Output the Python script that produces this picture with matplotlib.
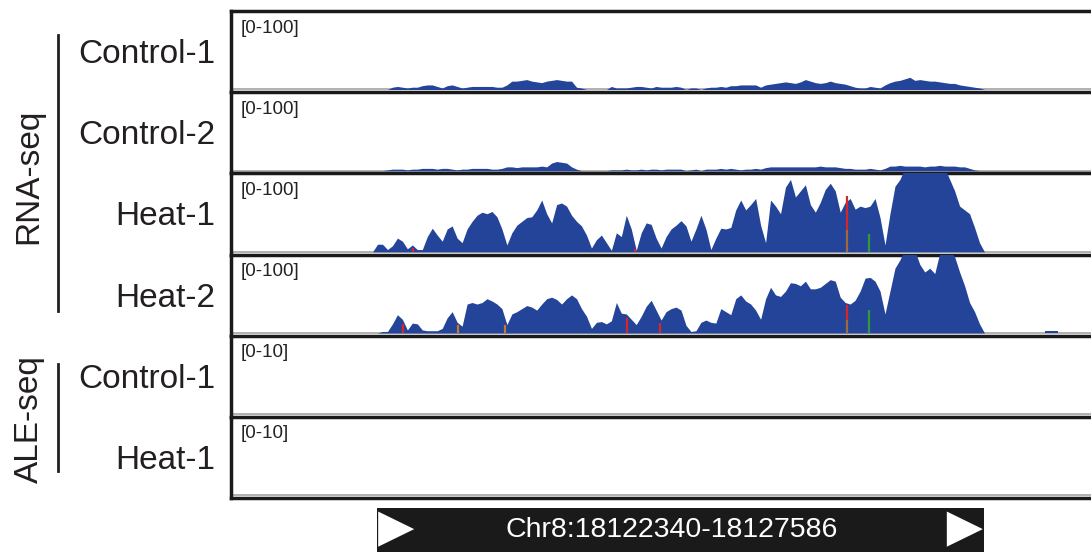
import numpy as np
import matplotlib as mpl
from matplotlib import pyplot as plt
from matplotlib.patches import Rectangle, Polygon

mpl.rcParams['font.family'] = ['Liberation Sans', 'DejaVu Sans']

##########################################################################################
# data
chrom = 'Chr8'
view_start, view_end = 18121078, 18128511      # visible window in bp
gene_start, gene_end = 18122340, 18127586

cov_start = 18122280   # first coverage bin
bin_bp = 43            # bin width in bp

track_names = ['Control-1', 'Control-2', 'Heat-1', 'Heat-2', 'Control-1', 'Heat-1']
track_ranges = ['[0-100]', '[0-100]', '[0-100]', '[0-100]', '[0-10]', '[0-10]']
track_max = [100, 100, 100, 100, 10, 10]
groups = ['RNA-seq', 'ALE-seq']

rna_ctrl1 = [0, 0, 0, 0, 3, 4, 3, 2, 3, 3,
             5, 6, 6, 4, 2, 5, 6, 4, 2, 3,
             4, 4, 4, 4, 4, 3, 3, 6, 11, 11,
             12, 13, 11, 10, 9, 11, 12, 13, 12, 11,
             11, 3, 2, 0, 0, 0, 0, 0, 4, 2,
             2, 2, 3, 4, 4, 3, 2, 4, 3, 3,
             3, 4, 3, 0, 2, 2, 0, 2, 3, 3,
             4, 3, 5, 5, 6, 6, 6, 6, 3, 6,
             7, 8, 9, 10, 9, 8, 10, 13, 11, 9,
             8, 9, 11, 9, 8, 7, 5, 3, 2, 2,
             4, 3, 2, 6, 9, 11, 12, 14, 16, 12,
             13, 12, 11, 11, 10, 9, 8, 8, 6, 5,
             4, 3, 2, 0]
rna_ctrl2 = [0, 0, 0, 1, 2, 2, 2, 1, 2, 2,
             3, 3, 3, 2, 3, 3, 2, 1, 2, 2,
             3, 3, 3, 3, 2, 2, 3, 5, 5, 4,
             5, 5, 5, 5, 6, 5, 10, 12, 11, 10,
             5, 2, 0, 0, 0, 0, 0, 0, 1, 1,
             1, 2, 1, 1, 2, 1, 2, 2, 1, 2,
             2, 2, 2, 0, 1, 2, 0, 2, 2, 2,
             3, 2, 3, 2, 1, 2, 2, 3, 2, 4,
             5, 5, 5, 5, 5, 5, 5, 5, 5, 5,
             6, 5, 5, 5, 4, 3, 3, 2, 2, 2,
             3, 2, 1, 3, 6, 6, 7, 6, 6, 6,
             6, 5, 6, 6, 7, 6, 6, 6, 5, 5,
             3, 1, 0, 0]
rna_heat1 = [0, 10, 10, 3, 8, 18, 14, 4, 9, 3,
             3, 20, 31, 22, 14, 30, 34, 18, 12, 30,
             40, 48, 52, 50, 53, 46, 30, 9, 25, 35,
             40, 45, 46, 55, 68, 50, 38, 62, 64, 60,
             48, 40, 34, 22, 5, 16, 22, 12, 2, 25,
             20, 48, 30, 2, 25, 38, 36, 18, 5, 20,
             30, 35, 41, 34, 14, 30, 48, 30, 3, 18,
             31, 30, 32, 55, 68, 55, 62, 70, 35, 12,
             68, 60, 50, 85, 95, 72, 80, 88, 62, 52,
             65, 82, 90, 80, 52, 65, 70, 56, 60, 58,
             60, 70, 45, 9, 50, 86, 95, 110, 105, 110,
             110, 120, 105, 110, 110, 110, 95, 80, 60, 55,
             50, 32, 12, 0]
rna_heat2 = [0, 0, 2, 2, 12, 24, 18, 4, 13, 12,
             4, 3, 3, 3, 6, 20, 28, 14, 9, 38,
             40, 38, 40, 45, 42, 38, 32, 11, 25, 28,
             32, 36, 34, 30, 38, 45, 47, 44, 38, 45,
             50, 45, 32, 22, 6, 14, 15, 12, 16, 40,
             26, 25, 18, 11, 22, 35, 43, 30, 17, 28,
             32, 34, 30, 10, 2, 3, 14, 17, 14, 13,
             32, 28, 24, 45, 50, 42, 38, 30, 18, 45,
             60, 50, 48, 55, 66, 65, 62, 68, 58, 58,
             60, 65, 70, 68, 47, 40, 38, 43, 55, 72,
             73, 68, 55, 25, 55, 85, 96, 110, 105, 108,
             90, 80, 85, 78, 105, 110, 110, 100, 80, 62,
             40, 28, 12, 0]
ale_ctrl1 = [0] * 124
ale_heat1 = [0] * 124

# small isolated read pile right of the gene in Heat-2
heat2_extra_start, heat2_extra_end, heat2_extra_val = 18128115, 18128225, 2

# mismatch bars: position (bp), track index, colour segments (bottom, top, colour)
mm_pos = [18122651, 18124570, 18126402, 18126592,
          18122565, 18123040, 18123446, 18124501, 18124786, 18126402, 18126592]
mm_track = [2, 2, 2, 2, 3, 3, 3, 3, 3, 3, 3]
mm_segs = [[(0, 5, '#d7262b')],
           [(0, 4, '#d7262b')],
           [(0, 28, '#a0693a'), (28, 73, '#d7262b')],
           [(0, 23, '#2f9a3a')],
           [(0, 12, '#d7262b')],
           [(0, 10, '#c8782a')],
           [(0, 11, '#c8782a')],
           [(0, 20, '#d7262b')],
           [(0, 13, '#d7262b')],
           [(0, 17, '#a0693a'), (17, 37, '#d7262b')],
           [(0, 30, '#2f9a3a')]]

coverage = [rna_ctrl1, rna_ctrl2, rna_heat1, rna_heat2, ale_ctrl1, ale_heat1]

##########################################################################################
# figure setup (pixel based layout for a 1091 x 552 canvas)
W, H = 1091.0, 552.0
f = plt.figure(figsize = (W / 100.0, H / 100.0), dpi = 100)

covColor = '#24449a'
panelLeft, panelTop, panelBottom = 231.0, 11.0, 498.0
trackH = (panelBottom - panelTop) / len(coverage)

axes = []
for i, vals in enumerate(coverage):
    top = panelTop + i * trackH
    ax = f.add_axes([panelLeft / W, 1.0 - (top + trackH) / H,
                     (W - panelLeft) / W, trackH / H])
    ymax = track_max[i]
    ax.set_xlim(view_start, view_end)
    ax.set_ylim(-0.035 * ymax, 1.03 * ymax)
    ax.axhline(0, color = '#b0b0b0', lw = 1.4, zorder = 1)
    if max(vals) > 0:
        centers = cov_start + bin_bp * (np.arange(len(vals)) + 0.5)
        ax.fill_between(centers, 0, vals, color = covColor, lw = 0, zorder = 2)
    if i == 3:
        ax.stairs([heat2_extra_val], [heat2_extra_start, heat2_extra_end],
                  fill = True, color = covColor, lw = 0, zorder = 2)
    ax.text(0.0115, 0.79, track_ranges[i], transform = ax.transAxes,
            fontsize = 13.5, color = '#222222', ha = 'left', va = 'center')
    ax.set_xticks([])
    ax.set_yticks([])
    for s in ['left', 'bottom', 'top']:
        ax.spines[s].set_linewidth(2.5)
        ax.spines[s].set_color('#1a1a1a')
    ax.spines['right'].set_visible(False)
    if i > 0:
        ax.spines['top'].set_visible(False)
    ax.patch.set_alpha(0.0)
    axes.append(ax)

    # track label on the left
    f.text(215.0 / W, 1.0 - (top + trackH / 2.0 + 3.0) / H, track_names[i],
           fontsize = 24, ha = 'right', va = 'center', color = '#231f20')

# mismatch bars
for p, t, segs in zip(mm_pos, mm_track, mm_segs):
    for b, tp, c in segs:
        axes[t].vlines(p, b, tp, color = c, lw = 1.6, zorder = 3)

##########################################################################################
# group brackets
bracketX = 58.0 / W
grp_spans = [(35.0, 311.0), (364.0, 471.0)]
grp_text_y = [176.0, 419.0]
for g, (y0, y1), ty in zip(groups, grp_spans, grp_text_y):
    f.add_artist(plt.Line2D([bracketX, bracketX], [1.0 - y0 / H, 1.0 - y1 / H],
                            color = '#231f20', lw = 2.0))
    f.text(29.0 / W, 1.0 - ty / H, g, rotation = 90, fontsize = 24,
           ha = 'center', va = 'center', color = '#231f20')

##########################################################################################
# gene / locus bar
gax = f.add_axes([panelLeft / W, 0.0, (W - panelLeft) / W, (H - 508.0) / H])
gax.set_xlim(view_start, view_end)
gax.set_ylim(0, 1)
gax.axis('off')
gax.add_patch(Rectangle((gene_start, 0.0), gene_end - gene_start, 1.0,
                        color = '#1a1a1a', lw = 0))
triW = 36 * (view_end - view_start) / (W - panelLeft)
for tx in [gene_start + 10, gene_end - triW - 10]:
    gax.add_patch(Polygon([[tx, 0.12], [tx, 0.92], [tx + triW, 0.52]],
                          closed = True, color = 'white', lw = 0))
gax.text((gene_start + gene_end) / 2.0 - 80, 0.5,
         '%s:%d-%d' % (chrom, gene_start, gene_end),
         fontsize = 20.5, color = 'white', ha = 'center', va = 'center')

f.savefig('out.png', dpi = 100)
plt.close()
